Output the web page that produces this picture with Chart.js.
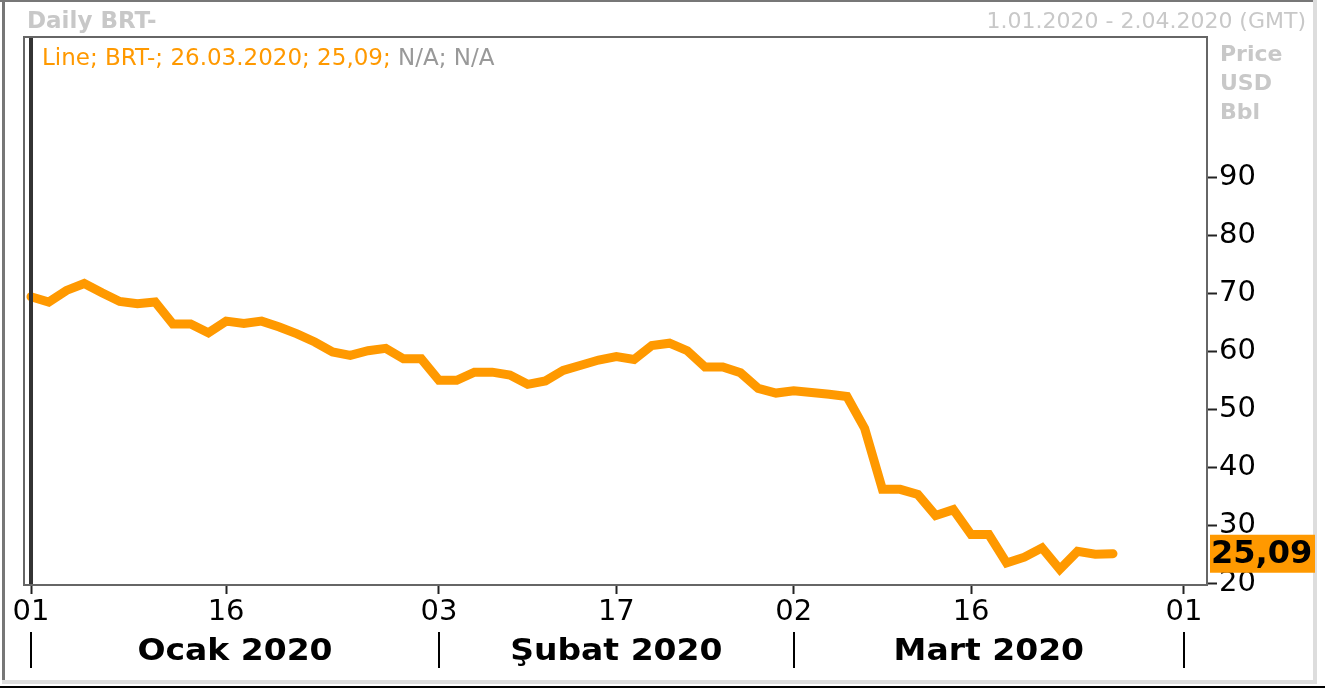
<!DOCTYPE html>
<html>
<head>
<meta charset="utf-8">
<script src="https://cdn.jsdelivr.net/npm/chart.js@4/dist/chart.umd.min.js"></script>
<style>
	body { margin: 0; background: #fff; }
	canvas { display: block; }
</style>
</head>
<body>
<canvas id="grafico" width="1325" height="689"></canvas>
<script>
//fechas (solo dias laborables) y valores de cierre
const fechas = [
	"01.01.2020", "02.01.2020", "03.01.2020", "06.01.2020", "07.01.2020", "08.01.2020", "09.01.2020", "10.01.2020",
	"13.01.2020", "14.01.2020", "15.01.2020", "16.01.2020", "17.01.2020", "20.01.2020", "21.01.2020", "22.01.2020",
	"23.01.2020", "24.01.2020", "27.01.2020", "28.01.2020", "29.01.2020", "30.01.2020", "31.01.2020",
	"03.02.2020", "04.02.2020", "05.02.2020", "06.02.2020", "07.02.2020", "10.02.2020", "11.02.2020", "12.02.2020",
	"13.02.2020", "14.02.2020", "17.02.2020", "18.02.2020", "19.02.2020", "20.02.2020", "21.02.2020", "24.02.2020",
	"25.02.2020", "26.02.2020", "27.02.2020", "28.02.2020",
	"02.03.2020", "03.03.2020", "04.03.2020", "05.03.2020", "06.03.2020", "09.03.2020", "10.03.2020", "11.03.2020",
	"12.03.2020", "13.03.2020", "16.03.2020", "17.03.2020", "18.03.2020", "19.03.2020", "20.03.2020", "23.03.2020",
	"24.03.2020", "25.03.2020", "26.03.2020"
];
const brent = [
	69.4, 68.5, 70.5, 71.7, 70.1, 68.6, 68.2, 68.5, 64.7, 64.7, 63.2, 65.2, 64.8, 65.2, 64.2, 63.0,
	61.6, 59.9, 59.3, 60.1, 60.5, 58.7, 58.7,
	55.0, 55.0, 56.4, 56.4, 55.9, 54.3, 54.9, 56.7, 57.6, 58.5, 59.1, 58.6, 61.0, 61.4, 60.1, 57.3,
	57.3, 56.3, 53.6, 52.8,
	53.2, 52.9, 52.6, 52.2, 46.7, 36.2, 36.2, 35.3, 31.7, 32.7, 28.4, 28.4, 23.5, 24.5, 26.1, 22.4,
	25.5, 25.0, 25.09
];
const ultimo = "25,09";
const yTicks = [20, 30, 40, 50, 60, 70, 80, 90];
//posicion (dia laborable) y texto de las marcas del eje x
const xTickIdx = [0, 11, 23, 33, 43, 53, 65];
const xTickText = ["01", "16", "03", "17", "02", "16", "01"];
const meses = ["Ocak 2020", "Şubat 2020", "Mart 2020"];
const mesInicio = [0, 23, 43, 65];

const naranja = "#ff9900";
const fuente = "'DejaVu Sans', Verdana, sans-serif";

//dibuja marcos, textos de cabecera, meses y la etiqueta del ultimo valor
const extras = {
	id: "extras",
	afterDatasetsDraw: function (chart) {
		const ctx = chart.ctx;
		const a = chart.chartArea;
		const x = chart.scales.x;
		//linea del cursor
		ctx.save();
		ctx.fillStyle = "#333";
		ctx.fillRect(x.getPixelForValue(0) - 2, a.top, 4, a.bottom - a.top);
		ctx.restore();
	},
	afterDraw: function (chart) {
		const ctx = chart.ctx;
		const a = chart.chartArea;
		const x = chart.scales.x;
		const y = chart.scales.y;
		ctx.save();

		//marco exterior
		ctx.fillStyle = "#777";
		ctx.fillRect(0, 0, 1316, 2);
		ctx.fillRect(2, 0, 3, 684);
		ctx.fillStyle = "#ddd";
		ctx.fillRect(1313, 0, 4, 684);
		ctx.fillRect(2, 680, 1315, 4);
		ctx.fillStyle = "#000";
		ctx.fillRect(0, 686, 1325, 2);

		//marco del area del grafico
		ctx.strokeStyle = "#666";
		ctx.lineWidth = 2;
		ctx.strokeRect(a.left, a.top, a.right - a.left, a.bottom - a.top);

		//cabecera
		ctx.textBaseline = "alphabetic";
		ctx.fillStyle = "#c8c8c8";
		ctx.font = "bold 23px " + fuente;
		ctx.textAlign = "left";
		ctx.fillText("Daily BRT-", 27, 28);
		ctx.font = "22px " + fuente;
		ctx.textAlign = "right";
		ctx.fillText("1.01.2020 - 2.04.2020 (GMT)", 1306, 28);

		//unidades
		ctx.font = "bold 22px " + fuente;
		ctx.textAlign = "left";
		ctx.fillText("Price", 1220, 61);
		ctx.fillText("USD", 1220, 90);
		ctx.fillText("Bbl", 1220, 119);

		//leyenda
		ctx.font = "23px " + fuente;
		const txt = "Line; BRT-; " + fechas[fechas.length - 1] + "; " + ultimo + "; ";
		ctx.fillStyle = naranja;
		ctx.fillText(txt, 42, 65);
		ctx.fillStyle = "#999";
		ctx.fillText("N/A; N/A", 42 + ctx.measureText(txt).width, 65);

		//meses
		ctx.fillStyle = "#000";
		for (let i = 0; i < mesInicio.length; i++) {
			ctx.fillRect(Math.round(x.getPixelForValue(mesInicio[i])) - 1, 632, 2, 36);
		}
		ctx.font = "bold 30px " + fuente;
		ctx.textAlign = "center";
		ctx.textBaseline = "middle";
		for (let i = 0; i < meses.length; i++) {
			const cx = (x.getPixelForValue(mesInicio[i]) + x.getPixelForValue(mesInicio[i + 1])) / 2;
			ctx.save();
			ctx.translate(cx, 652);
			ctx.scale(1.1, 1);
			ctx.fillText(meses[i], 0, 0);
			ctx.restore();
		}

		//etiqueta del ultimo valor
		const py = y.getPixelForValue(brent[brent.length - 1]);
		ctx.fillStyle = naranja;
		ctx.fillRect(a.right + 3, py - 19, 105, 38);
		ctx.fillStyle = "#000";
		ctx.font = "bold 32px " + fuente;
		ctx.textAlign = "left";
		ctx.fillText(ultimo, a.right + 4, py + 1);
		ctx.restore();
	},
};

const datos = {
	datasets: [
		{
			label: "BRT-",
			data: brent.map(function (v, i) {
				return { x: i, y: v };
			}),
			borderColor: naranja,
			backgroundColor: naranja,
			borderWidth: 9,
			pointRadius: 0,
			tension: 0,
			borderJoinStyle: "miter",
			borderCapStyle: "round",
		},
	],
};

const config = {
	type: "line",
	data: datos,
	options: {
		responsive: false,
		animation: false,
		layout: { padding: { left: 24, top: 37, right: 0, bottom: 0 } },
		plugins: { legend: { display: false }, tooltip: { enabled: false } },
		scales: {
			x: {
				type: "linear",
				min: -0.395,
				max: 66.3,
				afterBuildTicks: function (axis) {
					axis.ticks = xTickIdx.map(function (v) {
						return { value: v };
					});
				},
				afterFit: function (axis) {
					axis.height = 104;
				},
				border: { display: false },
				grid: { drawOnChartArea: false, tickLength: 9, tickWidth: 2, tickColor: "#222" },
				ticks: {
					autoSkip: false,
					maxRotation: 0,
					padding: 1,
					color: "#000",
					font: { family: fuente, size: 29 },
					callback: function (v) {
						return xTickText[xTickIdx.indexOf(v)];
					},
				},
			},
			y: {
				position: "right",
				min: 19.7,
				max: 114.2,
				afterBuildTicks: function (axis) {
					axis.ticks = yTicks.map(function (v) {
						return { value: v };
					});
				},
				afterFit: function (axis) {
					axis.width = 118;
				},
				border: { display: false },
				grid: { drawOnChartArea: false, tickLength: 10, tickWidth: 2, tickColor: "#222" },
				ticks: {
					padding: 2,
					color: "#000",
					font: { family: fuente, size: 29 },
				},
			},
		},
	},
	plugins: [extras],
};

const grafico = new Chart(document.getElementById("grafico"), config);
</script>
</body>
</html>
